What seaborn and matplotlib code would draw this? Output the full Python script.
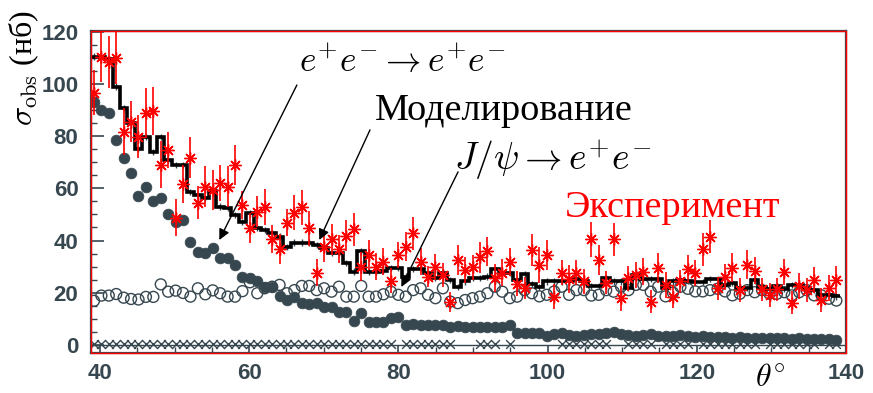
import numpy as np
import pandas as pd
import matplotlib
matplotlib.use("Agg")
import matplotlib.pyplot as plt
import seaborn as sns
from matplotlib.patches import Rectangle
from matplotlib.ticker import MultipleLocator

# ---------------- data ----------------
theta_first, theta_last = 39.2, 138.7   # first / last bin centre (deg)

# e+e- -> e+e- (filled circles)
ee_vals = [93, 90, 89, 78.5, 71.6, 66, 57, 60.5, 55, 56.4, 50, 47, 48, 39.5, 35.6, 35.3, 37, 33.3, 33.3, 30.6, 26,
           25.8, 24.3, 22.1, 22.3, 18.8, 17.2, 18.5, 16, 15.7, 16.2, 14.4, 14.7, 12.5, 12.5, 9.3, 12.1, 8.7, 8.9, 8.7,
           10.2, 10.8,
           7.7, 7.9, 7.7, 7.6, 7.8, 7.7,
           7.0, 7.1, 6.9, 7.0, 6.8, 7.0, 6.8, 6.9,
           7.5,
           4.6, 4.5, 4.7, 4.4,
           3.6, 4.0, 4.4, 3.8, 3.6, 3.8, 4.0, 4.2, 4.6, 5.0, 4.2, 3.8, 3.6, 3.8, 4.0, 3.6, 3.4, 3.6, 3.8, 3.4,
           3.2, 3.4, 3.0, 3.2, 3.0, 2.8, 3.0, 2.8, 2.6, 2.8, 2.6, 2.8, 2.6, 2.4, 2.6, 2.4, 2.2, 2.4, 2.2, 2.0]

# J/psi -> e+e- (open circles)
jpsi_vals = [16.9, 18.9, 18.9, 19.5, 18.1, 17.6, 17.4, 18.4, 18.4, 23.2, 20.4, 20.8, 19.9, 18.5, 21.7, 19.4, 20.9, 19.8, 18.5, 18.5, 20.6,
             24, 19.8, 21.7, 22.3, 23, 19.8, 21, 22.6, 22.6, 21, 21.7, 20.4, 22.3, 18.5, 18.5, 22.6, 18.5, 18.5, 19.4,
             20.4, 19.2, 18.5, 21, 21.7, 19.2, 17.9, 21.7, 16.6, 16, 17.2, 17.9, 18.5, 19.8, 22.3, 20.4, 17.9, 18.5, 21, 19.8,
             18.6, 19.2, 20.5, 22.3, 19.2, 21, 21, 18.9, 19.2, 21, 20.4, 22.3, 21, 23, 23, 20.4, 22.3, 18.6, 20, 22.3,
             21.5, 20.5, 20.5, 21, 21.5, 20.5, 19, 19.6, 21, 20.2, 21, 19.6, 19.6, 20.2, 19, 20.2, 21, 19, 19, 17.7, 17]

# background (x markers); None = not drawn
cross_vals = [
    0.4, 0.4, 0.4, 0.4, 0.4, 0.4, 0.4, 0.4, 0.4, 0.4, 0.4, 0.4, 0.4, 0.4, 0.4, 0.4, 0.4, 0.4, 0.4, 0.4,
    0.4, 0.4, 0.4, 0.4, 0.4, 0.4, 0.4, 0.4, 0.4, 0.4, 0.4, 0.4, 0.4, 0.4, 0.4, 0.4, 0.4, 0.4, 0.4, 0.4,
    0.4, None, 0.4, 0.4, 0.4, 0.4, 0.4, 0.4, 0.4, None, None, None, 0.4, 0.4, 0.4, None, 0.4, None, None, None,
    None, None, None, 0.4, 0.4, 0.4, 0.4, 0.4, 0.4, 0.4, None, None, 0.4, 0.4, 0.4, 0.4, None, 0.4, 0.4, 0.4,
    0.4, None, 0.4, 0.4, 0.4, 0.4, 0.4, 0.4, 0.4, 0.4, None, 0.4, 0.4, 0.4, 0.4, 0.4, 0.4, 0.4, None, 0.4, 0.4]

# simulation (step histogram)
sim_vals = [110.5, 110.5, 109.6, 99, 90.7, 85, 75, 79.6, 74, 79.8, 70.9, 69, 69, 58.7, 57.5, 56.2, 59, 53, 52.4, 49.8, 47,
            50.4, 44.7, 44, 42.8, 41.5, 37.5, 39.2, 39.2, 39.2, 38.3, 37, 35.1, 35.1, 31.3, 28.1, 35.8, 28.1, 28.1, 28.5, 29.5,
            29.5, 26.2, 29, 29, 27.5, 25.6, 27.5, 24.9, 22.3, 24.3, 25.6, 25.6, 26.2, 29, 27.5, 27.5, 24.9, 27, 23.3, 22.1,
            24.3, 24.3, 24.3, 24.3, 25.2, 24.3, 22.6, 22.6, 25.6, 24.3, 24.3, 21.7, 26.8, 25.2, 25.2, 25.2, 21.7, 24.3, 24.9, 24.6,
            24, 24, 25.2, 25.2, 23, 23.6, 21.7, 21.7, 24.7, 22.1, 21.3, 22.6, 21.3, 23, 23, 21.7, 21, 19.2, 19.2, 18.6]

# experiment (red stars) and errors
exp_y = [96.7, 110.5, 108.5, 109.8, 81.7, 85.6, 79.8, 88.8, 89.7, 69, 74.7, 48.8, 61.6, 71.8, 54.5, 60.7, 59.4, 62, 60.7, 69, 53.6,
         44.7, 51.1, 52.8, 40.5, 36.7, 46.9, 50.7, 52.8, 44.7, 27.7, 37.7, 40.5, 36.7, 41.8, 44.3, 30, 34.5, 30, 31.9, 24.6,
         34.5, 37.7, 42.8, 31.9, 26.2, 29.8, 26.8, 16.6, 32.6, 28.7, 29.8, 33.6, 35.8, 25.6, 27.7, 31.9, 23.5, 21.7, 36.4,
         30.7, 34.5, 18.5, 27.7, 25.2, 27.7, 24.3, 40.5, 32.6, 23.9, 40.5, 17.9, 25.6, 26.8, 28.1, 16.6, 29.4, 23, 18.5, 24.3, 29,
         27.7, 36.6, 41.5, 21.7, 25.9, 29.6, 21.1, 30.7, 28.5, 21.3, 19.2, 21.3, 28.1, 16.2, 22.6, 21.1, 24.9, 17.2, 21.7, 24.9]
exp_err = [8.6, 9.6, 10, 10, 9, 7.7, 8.3, 9.6, 9.3, 9, 7, 7, 7.3, 7.7, 6.4, 7.7, 7.7, 7, 8, 7.7, 5.5,
           5.7, 6, 6.8, 5.4, 5.7, 5.1, 6.7, 6.7, 6.7, 5.1, 6, 6, 5.4, 6, 6.4, 5.7, 5.7, 5.1, 5.1, 4.8,
           5.1, 5.7, 6.4, 5.1, 4.2, 5.1, 4.5, 3.8, 5.7, 5.1, 4.8, 6, 5.7, 5.4, 5.1, 5.4, 4.8, 4.2, 6,
           7, 5.7, 4.8, 4.8, 5.4, 4.8, 4.8, 6.7, 5.7, 4.5, 6.4, 4.8, 4.8, 5, 5.1, 4.5, 5.7, 5, 4.5, 4.5, 5.4,
           5, 6.4, 6.4, 4.5, 5, 5.5, 4.5, 5.5, 5, 4.5, 4.5, 4.5, 5, 4.5, 5, 4.5, 5, 4.5, 5, 5.5]

x_ticks = [40, 60, 80, 100, 120, 140]
y_ticks = [0, 20, 40, 60, 80, 100, 120]

# ---------------- style ----------------
sns.set_theme(style="white")
plt.rcParams["font.family"] = ["Liberation Sans", "DejaVu Sans"]
plt.rcParams["mathtext.fontset"] = "cm"

slate = "#37474f"
red = "#ff0000"

n = len(exp_y)
theta = np.linspace(theta_first, theta_last, n)
w = theta[1] - theta[0]
edges = np.append(theta - w / 2, theta[-1] + w / 2)

df = pd.DataFrame({
    "theta": theta,
    "ee": ee_vals,
    "jpsi": jpsi_vals,
    "cross": [np.nan if v is None else v for v in cross_vals],
    "sim": sim_vals,
    "exp": exp_y,
    "err": exp_err,
})

fig = plt.figure(figsize=(8.73, 3.93), dpi=100)
ax = fig.add_axes([0.1042, 0.1018, 0.8649, 0.8193])

ax.axhline(0, color=slate, lw=1.0, zorder=1)

sns.scatterplot(data=df, x="theta", y="cross", marker="x", s=40, color=slate,
                linewidth=1.0, ax=ax, zorder=2, legend=False)

sns.scatterplot(data=df, x="theta", y="jpsi", marker="o", s=62, color=slate,
                linewidth=1.0, ax=ax, zorder=3, legend=False)
ax.collections[-1].set_facecolor("none")
ax.collections[-1].set_edgecolor(slate)

sns.scatterplot(data=df, x="theta", y="ee", marker="o", s=60, color=slate,
                edgecolor=slate, linewidth=0.5, ax=ax, zorder=4, legend=False)

# simulation histogram
ax.errorbar(df["theta"], df["sim"], yerr=1.2, fmt="none", ecolor=slate, elinewidth=1.0, zorder=5)
ax.stairs(df["sim"], edges, color="black", lw=2.6, zorder=6, baseline=None)

# experiment
ax.errorbar(df["theta"], df["exp"], yerr=df["err"], fmt="none", ecolor=red,
            elinewidth=1.2, capsize=0, zorder=7)
sns.scatterplot(data=df, x="theta", y="exp", marker=(8, 2, 0), s=70, color=red,
                linewidth=1.0, ax=ax, zorder=8, legend=False)
sns.scatterplot(data=df, x="theta", y="exp", marker="o", s=9, color=red,
                linewidth=0, ax=ax, zorder=9, legend=False)

ax.set_xlim(38.8, 139.4)
ax.set_ylim(-3.1, 120.3)
ax.set_xticks(x_ticks)
ax.set_yticks(y_ticks)
ax.xaxis.set_minor_locator(MultipleLocator(5))
ax.yaxis.set_minor_locator(MultipleLocator(5))
ax.tick_params(axis="both", which="both", direction="in", colors=slate,
               bottom=True, left=True, top=False, right=False)
ax.tick_params(axis="y", which="major", length=9, width=1.2, pad=9)
ax.tick_params(axis="y", which="minor", length=4.5, width=1.0)
ax.tick_params(axis="x", which="major", length=5, width=1.2, pad=7)
ax.tick_params(axis="x", which="minor", length=4, width=1.0)
for lab in ax.get_xticklabels() + ax.get_yticklabels():
    lab.set_fontweight("bold")
    lab.set_fontsize(16)
    lab.set_color(slate)
    lab.set_family(["Liberation Sans", "DejaVu Sans"])
ax.set_xlabel("")
ax.set_ylabel("")
for sp in ax.spines.values():
    sp.set_color(slate)
    sp.set_linewidth(1.6)
ax.add_patch(Rectangle((0, 0), 1, 1, transform=ax.transAxes, fill=False,
                       ec=red, lw=1.0, zorder=12, clip_on=False))

# annotations
arrow = dict(arrowstyle="-|>", color="black", lw=1.0, mutation_scale=16,
             shrinkA=0, shrinkB=0)
ax.annotate("", xy=(56.0, 40.2), xytext=(66.4, 99.6), arrowprops=arrow, zorder=11)
ax.text(80.6, 108.4, r"$e^{+}e^{-}\rightarrow e^{+}e^{-}$", fontsize=25.5,
        ha="center", va="center", color="black", zorder=11)
ax.annotate("", xy=(69.4, 40.2), xytext=(76.2, 82.4), arrowprops=arrow, zorder=11)
ax.text(94.2, 89.7, "Моделирование", fontsize=27.5, family=["Liberation Serif", "DejaVu Serif"],
        ha="center", va="center", color="black", zorder=11)
ax.annotate("", xy=(80.4, 22.2), xytext=(88.0, 66.3), arrowprops=arrow, zorder=11)
ax.text(100.7, 70.9, r"$J/\psi\rightarrow e^{+}e^{-}$", fontsize=27,
        ha="center", va="center", color="black", zorder=11)
ax.text(116.7, 52.5, "Эксперимент", fontsize=27.5, family=["Liberation Serif", "DejaVu Serif"],
        ha="center", va="center", color=red, zorder=11)

fig.text(0.882, 0.038, r"$\theta^{\circ}$", fontsize=23, ha="center", va="center", color="black")
fig.text(0.0275, 0.827, r"$\sigma_{\mathrm{obs}}$ (нб)", fontsize=23, rotation=90,
         family=["Liberation Serif", "DejaVu Serif"], ha="center", va="center", color="black")

fig.savefig("out.png", dpi=100)
